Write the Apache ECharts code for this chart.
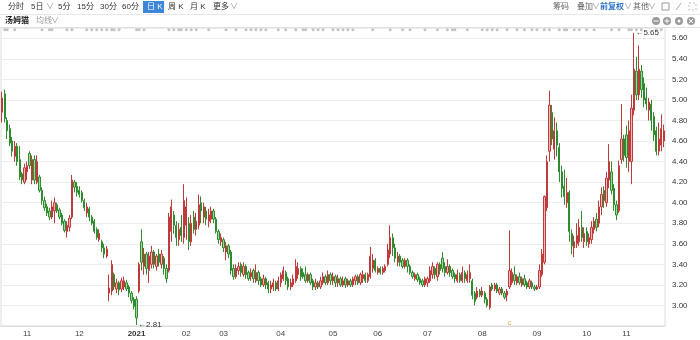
<!DOCTYPE html>
<html><head><meta charset="utf-8">
<script src="https://cdn.jsdelivr.net/npm/echarts@6/dist/echarts.min.js"></script>
<style>html,body{margin:0;padding:0;background:#fff}#c{width:700px;height:340px}</style>
</head><body><div id="c"></div>
<script>
// [open, close, low, high] per trading day, grouped by month
const oct2020 = [[4.88,5.02,4.78,5.08],[5.06,4.82,4.78,5.10],[4.80,4.70,4.62,4.83],[4.72,4.58,4.55,4.76],[4.60,4.50,4.45,4.64],[4.45,4.55,4.40,4.60],[4.55,4.40,4.36,4.58],[4.42,4.25,4.22,4.55],[4.28,4.22,4.18,4.30],[4.20,4.34,4.18,4.38]];
const nov2020 = [[4.30,4.36,4.22,4.40],[4.48,4.36,4.33,4.50],[4.22,4.42,4.18,4.46],[4.42,4.22,4.18,4.46],[4.20,4.40,4.18,4.46],[4.25,4.12,4.10,4.27],[4.12,4.02,3.98,4.15],[4.02,3.95,3.92,4.06],[3.96,3.90,3.87,3.99],[3.92,3.86,3.83,3.95],[3.86,3.96,3.84,4.02],[3.92,4.00,3.80,4.05],[3.98,3.92,3.90,4.00],[3.93,3.86,3.84,3.95],[3.88,3.80,3.78,3.90],[3.82,3.73,3.71,3.84],[3.72,3.78,3.66,3.82],[3.76,3.85,3.72,3.88],[3.86,4.22,3.84,4.27],[4.20,4.15,4.10,4.22],[4.16,4.10,4.06,4.20]];
const dec2020 = [[4.12,4.08,4.05,4.16],[4.10,4.02,4.00,4.12],[4.02,3.95,3.92,4.04],[3.90,3.96,3.86,4.00],[3.94,3.86,3.82,3.96],[3.86,3.80,3.78,3.88],[3.82,3.72,3.70,3.84],[3.74,3.66,3.64,3.76],[3.64,3.70,3.62,3.74],[3.62,3.56,3.52,3.64],[3.56,3.50,3.46,3.60],[3.48,3.55,3.46,3.58],[3.12,3.17,3.04,3.30],[3.14,3.40,3.10,3.44],[3.30,3.18,3.15,3.32],[3.16,3.22,3.12,3.26],[3.22,3.15,3.10,3.24],[3.16,3.24,3.13,3.27],[3.18,3.24,3.15,3.28],[3.22,3.16,3.14,3.25],[3.18,3.12,3.08,3.20],[3.12,3.05,3.02,3.14],[3.06,2.99,2.96,3.08]];
const jan2021 = [[3.06,2.88,2.81,3.09],[3.14,3.40,3.12,3.42],[3.62,3.42,3.34,3.74],[3.38,3.50,3.30,3.56],[3.50,3.36,3.30,3.52],[3.34,3.48,3.22,3.52],[3.40,3.52,3.36,3.58],[3.52,3.40,3.36,3.54],[3.38,3.48,3.34,3.50],[3.50,3.42,3.38,3.55],[3.40,3.50,3.36,3.54],[3.46,3.36,3.30,3.48],[3.36,3.26,3.22,3.40],[3.34,3.86,3.32,3.90],[3.72,3.96,3.62,4.03],[3.88,3.78,3.70,3.92],[3.78,3.66,3.58,3.82],[3.64,3.74,3.58,3.80],[3.76,3.68,3.62,3.88],[3.66,4.02,3.60,4.18]];
const feb2021 = [[3.78,3.96,3.64,4.05],[3.80,3.62,3.54,3.86],[3.62,3.80,3.58,3.88],[3.86,3.74,3.70,3.92],[3.74,3.82,3.68,3.90],[3.78,3.98,3.74,4.08],[4.00,3.92,3.80,4.06],[3.86,3.96,3.80,4.00],[3.92,3.84,3.78,3.96],[3.82,3.88,3.76,3.94],[3.84,3.92,3.80,3.96],[3.92,3.84,3.80,3.94],[3.84,3.72,3.70,3.86],[3.72,3.64,3.60,3.74],[3.62,3.66,3.58,3.70]];
const mar2021 = [[3.64,3.56,3.52,3.66],[3.52,3.58,3.44,3.62],[3.58,3.50,3.46,3.60],[3.52,3.34,3.30,3.54],[3.36,3.28,3.25,3.40],[3.28,3.36,3.26,3.40],[3.34,3.38,3.30,3.42],[3.40,3.32,3.28,3.42],[3.30,3.38,3.28,3.42],[3.38,3.30,3.26,3.40],[3.32,3.26,3.24,3.34],[3.28,3.32,3.24,3.36],[3.34,3.26,3.22,3.36],[3.24,3.32,3.22,3.40],[3.32,3.24,3.20,3.34],[3.26,3.20,3.18,3.28],[3.20,3.26,3.18,3.30],[3.26,3.20,3.16,3.28],[3.22,3.16,3.12,3.24],[3.16,3.20,3.12,3.24],[3.18,3.22,3.14,3.26],[3.22,3.16,3.14,3.24],[3.16,3.24,3.14,3.28]];
const apr2021 = [[3.22,3.30,3.18,3.32],[3.26,3.34,3.24,3.38],[3.32,3.24,3.20,3.34],[3.26,3.18,3.15,3.28],[3.18,3.22,3.15,3.26],[3.20,3.26,3.18,3.30],[3.24,3.38,3.22,3.45],[3.30,3.36,3.26,3.42],[3.36,3.28,3.24,3.38],[3.32,3.28,3.26,3.36],[3.30,3.24,3.22,3.38],[3.24,3.30,3.22,3.32],[3.30,3.22,3.20,3.32],[3.24,3.18,3.15,3.26],[3.18,3.22,3.15,3.26],[3.22,3.18,3.16,3.24],[3.18,3.24,3.16,3.28],[3.22,3.28,3.20,3.32],[3.28,3.22,3.20,3.30],[3.22,3.30,3.20,3.34],[3.30,3.24,3.20,3.32]];
const may2021 = [[3.24,3.28,3.20,3.32],[3.28,3.22,3.18,3.30],[3.22,3.26,3.18,3.30],[3.26,3.20,3.18,3.28],[3.20,3.24,3.18,3.28],[3.26,3.20,3.17,3.28],[3.20,3.24,3.18,3.26],[3.24,3.20,3.18,3.26],[3.20,3.26,3.18,3.28],[3.24,3.28,3.20,3.30],[3.28,3.22,3.20,3.30],[3.22,3.30,3.20,3.32],[3.26,3.30,3.22,3.34],[3.30,3.24,3.22,3.32],[3.24,3.30,3.22,3.32],[3.28,3.48,3.26,3.57],[3.36,3.44,3.32,3.50],[3.44,3.34,3.32,3.46]];
const jun2021 = [[3.32,3.36,3.30,3.38],[3.36,3.32,3.30,3.38],[3.32,3.36,3.30,3.38],[3.34,3.38,3.32,3.40],[3.40,3.54,3.38,3.60],[3.50,3.66,3.46,3.78],[3.66,3.56,3.48,3.70],[3.56,3.46,3.42,3.60],[3.42,3.48,3.38,3.52],[3.48,3.42,3.38,3.50],[3.44,3.38,3.36,3.46],[3.38,3.44,3.36,3.46],[3.44,3.38,3.32,3.46],[3.38,3.32,3.30,3.40],[3.32,3.28,3.26,3.34],[3.26,3.30,3.24,3.32],[3.30,3.25,3.23,3.32],[3.26,3.22,3.20,3.28],[3.24,3.20,3.18,3.26],[3.20,3.26,3.18,3.28]];
const jul2021 = [[3.22,3.26,3.18,3.28],[3.24,3.34,3.22,3.38],[3.30,3.38,3.26,3.42],[3.36,3.30,3.26,3.38],[3.28,3.40,3.24,3.42],[3.40,3.34,3.30,3.42],[3.46,3.36,3.32,3.52],[3.38,3.32,3.28,3.42],[3.32,3.38,3.30,3.45],[3.38,3.32,3.28,3.40],[3.34,3.28,3.26,3.36],[3.30,3.26,3.22,3.32],[3.24,3.30,3.22,3.35],[3.30,3.24,3.22,3.32],[3.24,3.32,3.22,3.38],[3.32,3.26,3.22,3.34],[3.24,3.30,3.22,3.34],[3.26,3.32,3.22,3.40],[3.24,3.10,3.06,3.26],[3.12,3.04,3.00,3.14],[3.08,3.14,3.06,3.18],[3.14,3.10,3.08,3.16]];
const aug2021 = [[3.10,3.14,3.08,3.18],[3.12,3.06,3.02,3.14],[3.06,3.00,2.98,3.08],[2.98,3.18,2.96,3.20],[3.20,3.16,3.14,3.22],[3.16,3.20,3.14,3.22],[3.20,3.14,3.12,3.22],[3.12,3.16,3.10,3.18],[3.16,3.12,3.10,3.18],[3.12,3.08,3.06,3.14],[3.10,3.14,3.04,3.16],[3.18,3.34,3.16,3.73],[3.22,3.32,3.20,3.36],[3.30,3.24,3.20,3.38],[3.22,3.28,3.20,3.30],[3.28,3.22,3.20,3.32],[3.20,3.26,3.18,3.28],[3.26,3.20,3.18,3.30],[3.22,3.18,3.16,3.24],[3.18,3.24,3.16,3.26],[3.22,3.18,3.16,3.24],[3.18,3.16,3.14,3.20]];
const sep2021 = [[3.16,3.18,3.15,3.20],[3.18,3.34,3.16,3.40],[3.30,3.50,3.28,3.55],[3.42,4.06,3.40,4.07],[3.95,4.40,3.92,4.46],[4.50,4.95,4.40,5.09],[4.88,4.62,4.56,4.95],[4.52,4.70,4.42,4.83],[4.70,4.56,4.45,4.78],[4.54,4.30,4.20,4.58],[4.30,4.14,4.05,4.36],[4.16,4.06,3.98,4.32],[4.00,4.10,3.95,4.24],[4.10,3.72,3.62,4.12],[3.70,3.58,3.50,3.74],[3.56,3.62,3.47,3.68],[3.60,3.68,3.56,3.80],[3.62,3.76,3.58,3.84],[3.76,3.66,3.62,3.92],[3.62,3.70,3.56,3.76]];
const oct2021 = [[3.72,3.62,3.58,3.76],[3.60,3.66,3.56,3.70],[3.64,3.76,3.60,3.82],[3.74,3.82,3.70,3.86],[3.84,3.76,3.72,3.90],[3.80,3.96,3.76,4.02],[3.96,4.08,3.88,4.15],[4.12,4.02,3.95,4.16],[4.00,4.24,3.96,4.30],[4.22,4.40,4.14,4.57],[4.30,4.12,4.08,4.40],[4.14,3.98,3.92,4.18],[3.98,3.88,3.83,4.02],[3.92,4.36,3.90,4.41],[4.42,4.62,4.38,4.96],[4.62,4.46,4.40,4.66]];
const nov2021 = [[4.66,4.44,4.34,4.75],[4.40,4.70,4.30,4.80],[4.40,4.92,4.18,5.05],[4.90,5.30,4.85,5.65],[5.28,5.05,5.00,5.42],[5.05,5.30,5.00,5.53],[5.28,5.10,5.02,5.34],[5.16,5.00,4.93,5.22],[5.02,4.96,4.90,5.12],[4.90,4.98,4.80,5.02],[4.96,4.80,4.70,5.00],[4.84,4.66,4.60,4.88],[4.70,4.50,4.46,4.74],[4.50,4.62,4.46,4.78],[4.56,4.72,4.50,4.86],[4.60,4.70,4.54,4.76]];

// month-start category indices and their tick labels
const monthStarts = [10,31,54,74,89,112,133,151,171,193,215,235,251];
const monthLabels = ['11','12','2021','02','03','04','05','06','07','08','09','10','11'];
// y-axis tick values
const yTicks = [3.0,3.2,3.4,3.6,3.8,4.0,4.2,4.4,4.6,4.8,5.0,5.2,5.4,5.6];
// event dot indices (top row) and special markers
const eventDays = [1,2,5,16,19,20,26,28,34,36,38,40,42,44,45,47,54,55,57,67,69,71,72,74,76,78,83,90,94,98,100,102,104,106,111,114,118,121,122,125,127,129,133,135,137,139,141,149,156,161,164,170,175,179,181,182,187,193,195,197,199,203,207,210,213,215,218,220,224,226,227,230,232,235,238,245,248,252,253,255,257,263,265];
const markerDays = [[204,'c']];

const ohlc = [].concat(oct2020,nov2020,dec2020,jan2021,feb2021,mar2021,apr2021,may2021,jun2021,jul2021,aug2021,sep2021,oct2021,nov2021);
const categories = ohlc.map((_, i) => { const k = monthStarts.indexOf(i); return k >= 0 ? monthLabels[k] : ''; });

const chart = echarts.init(document.getElementById('c'), null, {renderer:'canvas'});
const F = 'Arial, "Liberation Sans", "Noto Sans CJK SC", sans-serif';
const txt = (x, y, s, o) => ({type:'text', left:x, top:y, style:Object.assign({text:s, fill:'#333', font:'8px ' + F}, o||{})});
const graphics = [
  {type:'rect', shape:{x:0,y:14,width:700,height:1}, style:{fill:'#e8e8e8'}},
  {type:'rect', shape:{x:0,y:27,width:700,height:1}, style:{fill:'#e0e0e0'}},
  txt(8,3,'分时'), txt(31,3,'5日'), txt(46,3,'∨',{fill:'#999'}), txt(58,3,'5分'), txt(77,3,'15分'), txt(100,3,'30分'), txt(122,3,'60分'),
  {type:'rect', shape:{x:143,y:1,width:21,height:12}, style:{fill:'#3d86d8'}},
  txt(147,3,'日 K',{fill:'#fff'}), txt(168,3,'周 K'), txt(190,3,'月 K'), txt(213,3,'更多'), txt(230,3,'∨',{fill:'#999'}),
  txt(553,3,'筹码',{fill:'#666'}), txt(577,3,'叠加',{fill:'#666'}), txt(592,3,'∨',{fill:'#999'}),
  txt(600,3,'前复权',{fill:'#2f74c8', font:'bold 8px ' + F}), txt(624,3,'∨',{fill:'#999'}),
  txt(633,3,'其他',{fill:'#666'}), txt(648,3,'∨',{fill:'#999'}),
  {type:'rect', shape:{x:662,y:3,width:7,height:7}, style:{fill:'none', stroke:'#999', lineWidth:1}},
  {type:'line', shape:{x1:676,y1:10,x2:681,y2:3}, style:{stroke:'#aaa', lineWidth:1}},
  {type:'rect', shape:{x:689,y:3,width:7,height:7}, style:{fill:'none', stroke:'#bbb', lineWidth:1, lineDash:[2,2]}},
  txt(5,17,'汤姆猫',{font:'bold 8px ' + F, fill:'#222'}), txt(36,17,'均线',{fill:'#999'}), txt(51,17,'∨',{fill:'#999'}),
  {type:'circle', shape:{cx:656,cy:21,r:4}, style:{fill:'#9a9a9a'}},
  {type:'rect', shape:{x:653.5,y:20.5,width:5,height:1}, style:{fill:'#fff'}},
  {type:'circle', shape:{cx:667,cy:21,r:4}, style:{fill:'#9a9a9a'}},
  {type:'rect', shape:{x:664.5,y:20.5,width:5,height:1}, style:{fill:'#fff'}},
  {type:'rect', shape:{x:666.5,y:18.5,width:1,height:5}, style:{fill:'#fff'}},
  {type:'circle', shape:{cx:679,cy:21,r:4}, style:{fill:'#9a9a9a'}},
  {type:'circle', shape:{cx:679,cy:21,r:1.5}, style:{fill:'#fff'}},
  {type:'circle', shape:{cx:691,cy:21,r:4}, style:{fill:'#9a9a9a'}},
  {type:'line', shape:{x1:689,y1:19,x2:693,y2:23}, style:{stroke:'#fff', lineWidth:1}},
  {type:'line', shape:{x1:693,y1:19,x2:689,y2:23}, style:{stroke:'#fff', lineWidth:1}}
];

chart.setOption({
  animation:false,
  backgroundColor:'#fff',
  graphic: graphics,
  grid:{left:1, right:35, top:28, bottom:14, show:true, borderColor:'#dcdcdc', borderWidth:1},
  xAxis:{
    type:'category', data:categories, boundaryGap:true,
    axisLine:{show:true, lineStyle:{color:'#dcdcdc'}},
    axisTick:{show:false},
    splitLine:{show:false},
    axisLabel:{
      interval:(idx) => monthStarts.indexOf(idx) >= 0,
      margin:4, color:'#444', fontSize:8, fontFamily:F,
      formatter:(v) => v === '2021' ? '{b|2021}' : v,
      rich:{b:{fontWeight:'bold', fontSize:8, color:'#333', fontFamily:F}}
    }
  },
  yAxis:{
    type:'value', position:'right', min:2.8, max:5.7, interval:0.2, scale:true,
    axisLine:{show:false}, axisTick:{show:false},
    splitLine:{lineStyle:{color:'#ececec'}},
    axisLabel:{
      showMinLabel:false, showMaxLabel:false,
      color:'#333', fontSize:8, fontFamily:F, margin:7,
      formatter:(v) => yTicks.some(t => Math.abs(t - v) < 1e-6) ? v.toFixed(2) : ''
    }
  },
  series:[
    {
      type:'candlestick', data:ohlc, barWidth:'72%',
      itemStyle:{color:'#f1b9b9', color0:'#a6d6a0', borderColor:'#c0393b', borderColor0:'#2e8b2e', borderWidth:1},
      markPoint:{
        symbol:'circle', symbolSize:1, itemStyle:{color:'rgba(0,0,0,0)'},
        label:{show:true, position:'right', distance:1, color:'#333', fontSize:8, fontFamily:F,
          formatter:(p) => '←' + Number(p.value).toFixed(2)},
        data:[{type:'max', valueDim:'highest'},{type:'min', valueDim:'lowest'}]
      }
    },
    {
      type:'scatter', symbol:'circle', symbolSize:3, silent:true,
      itemStyle:{color:'#b5b5b5'},
      data:eventDays.map(i => [i, 5.683])
    },
    {
      type:'scatter', symbolSize:0, silent:true,
      label:{show:true, position:'inside', color:'#e8a23a', fontSize:8, fontFamily:F, formatter:(p) => p.data[2]},
      data:markerDays.map(m => [m[0], 2.83, m[1]])
    }
  ]
});
</script></body></html>
